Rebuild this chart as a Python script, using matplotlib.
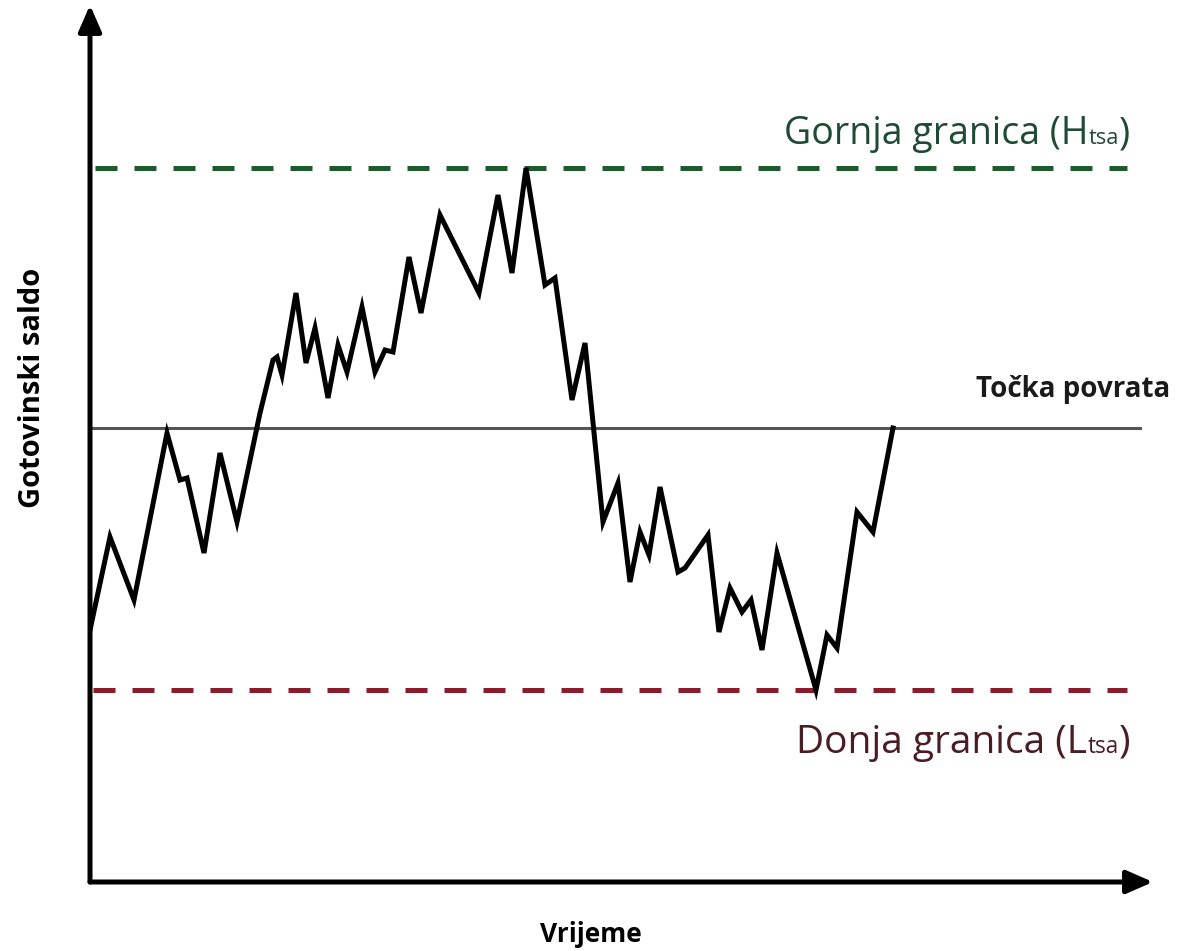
import matplotlib.pyplot as plt
from matplotlib.offsetbox import TextArea, HPacker, AnnotationBbox

# Podaci: vrijeme i gotovinski saldo (procjena s originalne slike)
vrijeme = [0.0, 2.0, 4.4, 7.7, 9.0, 9.7, 11.4, 13.0, 14.7, 17.0, 18.3, 18.7, 19.2,
           20.6, 21.6, 22.5, 23.8, 24.8, 25.7, 27.2, 28.5, 29.5, 30.3, 31.9, 33.1,
           35.0, 38.9, 40.8, 42.2, 43.6, 45.5, 46.5, 48.2, 49.5, 51.3, 52.8, 54.0,
           55.0, 55.9, 57.0, 58.8, 59.5, 61.8, 62.9, 64.0, 65.2, 66.1, 67.2, 68.7,
           72.6, 73.7, 74.7, 76.7, 78.3, 80.3]
saldo = [25.2, 34.5, 28.2, 44.9, 40.2, 40.4, 32.9, 42.9, 36.0, 46.9, 52.2, 52.5, 50.7,
         58.9, 51.9, 55.4, 48.4, 53.7, 51.0, 57.5, 51.0, 53.2, 53.0, 62.5, 56.9,
         66.7, 58.9, 68.7, 60.9, 71.4, 59.7, 60.4, 48.2, 53.9, 36.0, 39.9, 30.0,
         35.0, 32.7, 39.5, 31.0, 31.4, 34.7, 25.0, 29.4, 27.0, 28.2, 23.2, 32.9,
         19.2, 24.7, 23.4, 37.0, 35.0, 45.4]

gornja_granica = 71.4
tocka_povrata = 45.4
donja_granica = 19.2

fig = plt.figure(figsize=(11.94, 9.51), dpi=100)
ax = fig.add_axes([90 / 1194, 1 - 882 / 951, (1153 - 90) / 1194, (882 - 5) / 951])
ax.set_xlim(0, 106.3)
ax.set_ylim(0, 87.7)
ax.axis('off')

# Osi sa strelicama
ax.annotate('', xy=(0, 1), xytext=(0, 0), xycoords='axes fraction',
            arrowprops=dict(arrowstyle='-|>,head_length=1.6,head_width=0.7',
                            lw=3.6, color='black', shrinkA=0, shrinkB=0))
ax.annotate('', xy=(1, 0), xytext=(0, 0), xycoords='axes fraction',
            arrowprops=dict(arrowstyle='-|>,head_length=1.6,head_width=0.7',
                            lw=3.6, color='black', shrinkA=0, shrinkB=0))

# Granice i točka povrata
ax.plot([0.5, 103.7], [gornja_granica] * 2, color='#1d5a2c', lw=3.6,
        dashes=(4.4, 3.4), solid_capstyle='butt')
ax.plot([0.3, 103.7], [donja_granica] * 2, color='#8a1c2c', lw=3.6,
        dashes=(4.4, 3.4), solid_capstyle='butt')
ax.plot([0, 105], [tocka_povrata] * 2, color='#555555', lw=2.2)

# Kretanje gotovinskog salda
ax.plot(vrijeme, saldo, color='black', lw=3.6, solid_joinstyle='miter')


def oznaka(x, y, glavni, mali, boja, vel):
    fp = dict(family='Open Sans', color=boja, fontsize=vel)
    fm = dict(family='Open Sans', color=boja, fontsize=vel * 0.58)
    dijelovi = [TextArea(glavni, textprops=fp), TextArea(mali, textprops=fm),
                TextArea(')', textprops=fp)]
    kutija = HPacker(children=dijelovi, align='baseline', pad=0, sep=0)
    ab = AnnotationBbox(kutija, (x, y), xycoords='data', box_alignment=(1, 0),
                        frameon=False, pad=0)
    ax.add_artist(ab)


oznaka(104.0, 72.9, 'Gornja granica (H', 'tsa', '#1f4a33', 27)
oznaka(104.0, 12.0, 'Donja granica (L', 'tsa', '#4a1c24', 28)

ax.text(108.0, 49.2, 'Točka povrata', family='Open Sans', fontweight='bold',
        fontsize=20, ha='right', va='center', color='#1a1a1a')

fig.text(33 / 1194, 1 - 388 / 951, 'Gotovinski saldo', family='Open Sans',
         fontweight='bold', fontsize=21, rotation=90, ha='center', va='center')
fig.text(591 / 1194, 1 - 934 / 951, 'Vrijeme', family='Open Sans',
         fontweight='bold', fontsize=19, ha='center', va='center')

fig.savefig('out.png', dpi=100)
